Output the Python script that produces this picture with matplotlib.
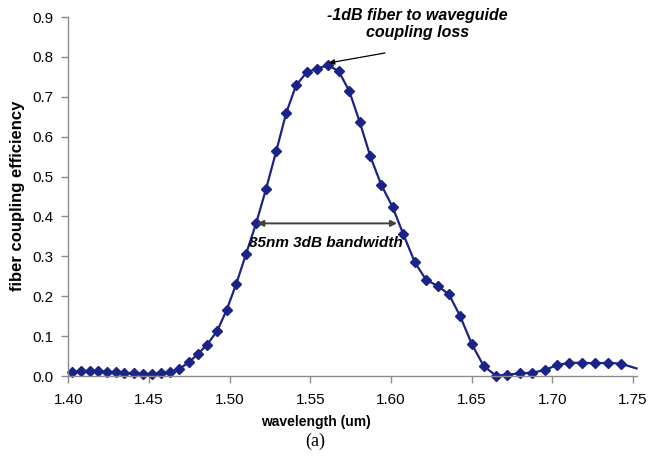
import matplotlib
matplotlib.use("Agg")
import matplotlib.pyplot as plt
import numpy as np

# wavelength (um) and coupling efficiency
wavelength = [1.4024, 1.4076, 1.4131, 1.4185, 1.4239, 1.4292, 1.4346, 1.4404, 1.4460, 1.4516,
              1.4571, 1.4629, 1.4687, 1.4745, 1.4802, 1.4860, 1.4922, 1.4980, 1.5040, 1.5100,
              1.5164, 1.5224, 1.5288, 1.5350, 1.5411, 1.5478, 1.5542, 1.5608, 1.5674, 1.5740,
              1.5806, 1.5871, 1.5938, 1.6009, 1.6076, 1.6147, 1.6217, 1.6288, 1.6358, 1.6428,
              1.6500, 1.6574, 1.6649, 1.6721, 1.6798, 1.6874, 1.6951, 1.7027, 1.7105, 1.7183,
              1.7264, 1.7345, 1.7425, 1.7521]
efficiency = [0.009, 0.012, 0.013, 0.012, 0.010, 0.009, 0.008, 0.007, 0.006, 0.005,
              0.007, 0.010, 0.018, 0.034, 0.055, 0.079, 0.113, 0.165, 0.231, 0.305,
              0.384, 0.468, 0.564, 0.660, 0.729, 0.762, 0.771, 0.779, 0.765, 0.715,
              0.636, 0.551, 0.480, 0.424, 0.355, 0.285, 0.241, 0.226, 0.205, 0.150,
              0.080, 0.025, 0.001, 0.003, 0.007, 0.008, 0.015, 0.027, 0.033, 0.033,
              0.032, 0.033, 0.031, 0.019]

xticks = [1.40, 1.45, 1.50, 1.55, 1.60, 1.65, 1.70, 1.75]
yticks = [0.0, 0.1, 0.2, 0.3, 0.4, 0.5, 0.6, 0.7, 0.8, 0.9]

bw_left, bw_right, bw_level = 1.5170, 1.6037, 0.3827
peak_x, peak_y = 1.5614, 0.785
arrow_tail = (1.5962, 0.810)

plt.rcParams['font.family'] = ['Liberation Sans', 'DejaVu Sans']

fig = plt.figure(figsize=(6.49, 4.59), dpi=100)
ax = fig.add_axes([0.1055, 0.1808, 0.8755, 0.782])

line_col = '#1a2386'
ax.plot(wavelength, efficiency, color=line_col, linewidth=1.6,
        marker='D', markersize=4.8, markevery=list(range(len(wavelength) - 1)),
        clip_on=False)

ax.set_xlim(1.40, 1.7522)
ax.set_ylim(0, 0.9)
ax.set_xticks(xticks)
ax.set_xticklabels([f"{v:.2f}" for v in xticks])
ax.set_yticks(yticks)
ax.set_yticklabels([f"{v:.1f}" for v in yticks])

for s in ['top', 'right']:
    ax.spines[s].set_visible(False)
for s in ['left', 'bottom']:
    ax.spines[s].set_color('#8c8c8c')
    ax.spines[s].set_linewidth(1.0)
ax.tick_params(axis='both', direction='out', length=5, width=1.0, color='#8c8c8c',
               labelsize=11, labelcolor='black')
ax.tick_params(axis='x', pad=7)
ax.tick_params(axis='y', pad=6)

# 3dB bandwidth arrow
ax.annotate('', xy=(bw_left, bw_level), xytext=(bw_right, bw_level),
            arrowprops=dict(arrowstyle='<|-|>', color='#404040', lw=1.4,
                            mutation_scale=9, shrinkA=0, shrinkB=0))
ax.text((bw_left + bw_right) / 2 - 0.001, 0.333, '85nm 3dB bandwidth',
        ha='center', va='center', fontsize=11, fontweight='bold', style='italic')

# peak annotation
ax.text(1.6162, 0.882, '-1dB fiber to waveguide\ncoupling loss',
        ha='center', va='center', multialignment='center',
        fontsize=11.5, fontweight='bold', style='italic', linespacing=1.2)
ax.annotate('', xy=(peak_x, peak_y), xytext=arrow_tail,
            arrowprops=dict(arrowstyle='-|>', color='black', lw=0.9,
                            mutation_scale=8, shrinkA=0, shrinkB=0),
            annotation_clip=False)

fig.text(18 / 649, 1 - 196 / 459, 'fiber coupling efficiency', rotation=90,
         ha='center', va='center', fontsize=12, fontweight='bold')
fig.text(316 / 649, 1 - 422 / 459, 'wavelength (um)', ha='center', va='center',
         fontsize=10, fontweight='bold')
fig.text(315 / 649, 1 - 441 / 459, '(a)', ha='center', va='center',
         fontsize=13, family='Liberation Serif')

fig.savefig('out.png', dpi=100)
